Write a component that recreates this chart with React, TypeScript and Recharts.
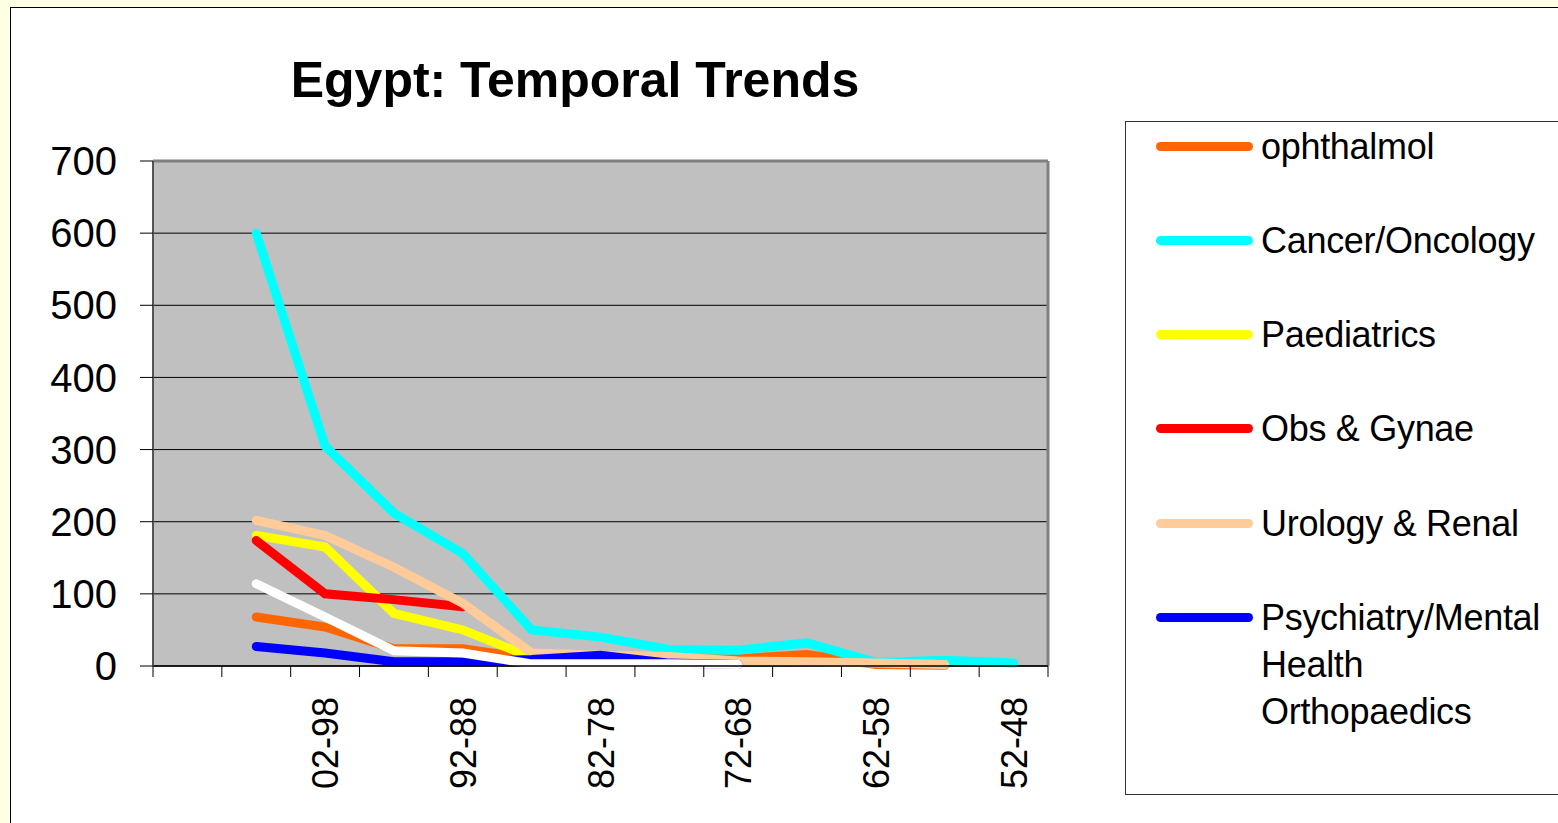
import React from 'react';
import { LineChart, Line, XAxis, YAxis, CartesianGrid, Legend } from 'recharts';

const FONT = '"Liberation Sans", Arial, Helvetica, sans-serif';

// ---------- data ----------
const CATEGORIES = ['', '07-03', '02-98', '97-93', '92-88', '87-83', '82-78', '77-73', '72-68', '67-63', '62-58', '57-53', '52-48'];
const Y_TICKS = [0, 100, 200, 300, 400, 500, 600, 700];

const OPHTHALMOL = [null, 68, 54, 24, 24, 10, 10, 10, 10, 16, 2, 1, null];
const CANCER = [null, 600, 305, 212, 156, 50, 40, 23, 22, 32, 5, 8, 4];
const PAEDIATRICS = [null, 181, 165, 73, 50, 12, null, null, null, null, null, null, null];
const OBS_GYNAE = [null, 174, 100, 92, 82, null, null, null, null, null, null, null, null];
const UROLOGY = [null, 202, 181, 137, 87, 18, 15, 13, 7, 6, 4, 2, null];
const PSYCHIATRY = [null, 27, 18, 6, 6, 9, 15, 4, 2, null, null, null, null];
const ORTHOPAEDICS = [null, 114, 68, 21, 18, 3, 3, 3, 2, null, null, null, null];

const SERIES = [
  { key: 'ophthalmol', name: 'ophthalmol', color: '#FF6600', values: OPHTHALMOL },
  { key: 'cancer', name: 'Cancer/Oncology', color: '#00FFFF', values: CANCER },
  { key: 'paediatrics', name: 'Paediatrics', color: '#FFFF00', values: PAEDIATRICS },
  { key: 'obs', name: 'Obs & Gynae', color: '#FF0000', values: OBS_GYNAE },
  { key: 'urology', name: 'Urology & Renal', color: '#FFCC99', values: UROLOGY },
  { key: 'psychiatry', name: 'Psychiatry/Mental Health', color: '#0000FF', values: PSYCHIATRY },
  { key: 'ortho', name: 'Orthopaedics', color: '#FFFFFF', values: ORTHOPAEDICS },
];

const data = CATEGORIES.map((period, i) => {
  const row: Record<string, any> = { period };
  SERIES.forEach((s) => {
    row[s.key] = s.values[i];
  });
  return row;
});

// ---------- layout ----------
const W = 1558;
const H = 823;
const MARGIN = { top: 161, right: 510, bottom: 0, left: 0 };
const YAXIS_W = 153;
const XAXIS_H = 157;
const PLOT_W = W - MARGIN.left - MARGIN.right - YAXIS_W;
const BAND = PLOT_W / CATEGORIES.length;

const XTick = (props: any) => {
  const { x, y, payload, index } = props;
  const half = BAND / 2;
  const showLabel = index % 2 === 0 && payload && payload.value;
  return (
    <g>
      <line x1={x - half} x2={x - half} y1={y} y2={y + 11} stroke="#000" strokeWidth={1} />
      {index === CATEGORIES.length - 1 && (
        <line x1={x + half} x2={x + half} y1={y} y2={y + 11} stroke="#000" strokeWidth={1} />
      )}
      {showLabel ? (
        <text
          transform={`translate(${x + 13},${y + 31}) rotate(-90)`}
          textAnchor="end"
          fontSize={36}
          fontFamily={FONT}
          fill="#000"
        >
          {payload.value}
        </text>
      ) : null}
    </g>
  );
};

const renderLegend = () => (
  <div
    style={{
      position: 'relative',
      width: 460,
      height: 674,
      background: '#fff',
      border: '1px solid #333',
      boxSizing: 'border-box',
      fontFamily: FONT,
    }}
  >
    {SERIES.map((s, i) => (
      <div
        key={s.key}
        style={{
          position: 'absolute',
          left: 0,
          top: 24 + i * 94.3 - 23.5,
          display: 'flex',
          alignItems: 'flex-start',
        }}
      >
        <svg width={135} height={47} style={{ flex: 'none', display: 'block' }}>
          <line x1={34.5} x2={122.5} y1={23.5} y2={23.5} stroke={s.color} strokeWidth={9} strokeLinecap="round" />
        </svg>
        <div style={{ fontSize: 36, lineHeight: '47px', color: '#000', width: 310, letterSpacing: -0.3 }}>{s.name}</div>
      </div>
    ))}
  </div>
);

export default function App() {
  return (
    <div
      style={{
        position: 'fixed',
        left: 0,
        top: 0,
        width: W,
        height: H,
        overflow: 'hidden',
        background: '#FFFFE3',
        fontFamily: FONT,
      }}
    >
      <div
        style={{
          position: 'absolute',
          left: 10,
          top: 7,
          width: W + 20,
          height: H + 20,
          background: '#FFFFFF',
          border: '1.5px solid #000',
          boxSizing: 'border-box',
        }}
      />
      <svg style={{ position: 'absolute', left: 0, top: 0 }} width={W} height={130}>
        <text x={575} y={97} textAnchor="middle" fontSize={50} fontWeight="bold" fontFamily={FONT} fill="#000">
          Egypt: Temporal Trends
        </text>
      </svg>
      <div style={{ position: 'absolute', left: 0, top: 0 }}>
        <LineChart width={W} height={H} data={data} margin={MARGIN}>
          <CartesianGrid fill="#C0C0C0" fillOpacity={1} vertical={false} stroke="#000" strokeWidth={1} />
          <CartesianGrid
            horizontal={true}
            vertical={true}
            stroke="#808080"
            strokeWidth={3}
            horizontalCoordinatesGenerator={(p: any) => (p && p.offset ? [p.offset.top] : [])}
            verticalCoordinatesGenerator={(p: any) => (p && p.offset ? [p.offset.left + p.offset.width] : [])}
          />
          <XAxis
            dataKey="period"
            interval={0}
            height={XAXIS_H}
            padding={{ left: BAND / 2, right: BAND / 2 }}
            tickSize={0}
            tickMargin={0}
            tickLine={false}
            axisLine={{ stroke: '#000', strokeWidth: 1.5 }}
            tick={<XTick />}
          />
          <YAxis
            width={YAXIS_W}
            domain={[0, 700]}
            ticks={Y_TICKS}
            interval={0}
            tickSize={13}
            tickMargin={23}
            tickLine={{ stroke: '#000', strokeWidth: 1 }}
            axisLine={{ stroke: '#555', strokeWidth: 2 }}
            tick={{ fontSize: 40, fill: '#000', fontFamily: FONT }}
          />
          <Legend
            layout="vertical"
            align="center"
            verticalAlign="middle"
            content={renderLegend}
            wrapperStyle={{ left: 1125, top: 121, width: 460, height: 674 }}
          />
          {SERIES.map((s) => (
            <Line
              key={s.key}
              type="linear"
              dataKey={s.key}
              name={s.name}
              stroke={s.color}
              strokeWidth={9}
              strokeLinecap="round"
              strokeLinejoin="miter"
              dot={false}
              activeDot={false}
              isAnimationActive={false}
            />
          ))}
        </LineChart>
      </div>
    </div>
  );
}
